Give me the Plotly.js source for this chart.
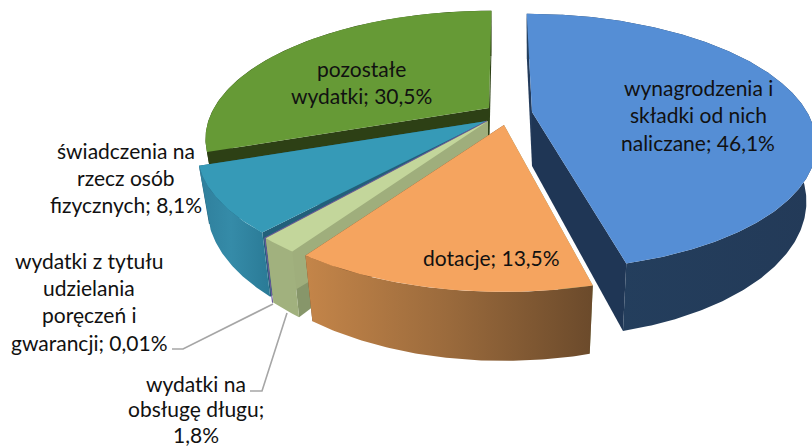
<!DOCTYPE html>
<html><head><meta charset="utf-8">
<script src="https://cdn.plot.ly/plotly-3.0.1.min.js"></script>
<style>html,body{margin:0;padding:0;background:#fff}#c{width:812px;height:448px}</style>
</head><body><div id="c"></div>
<script>
// Data
const categories = ['wynagrodzenia i składki od nich naliczane','dotacje','wydatki na obsługę długu','wydatki z tytułu udzielania poręczeń i gwarancji','świadczenia na rzecz osób fizycznych','pozostałe wydatki'];
const shares = [46.1,13.5,1.8,0.01,8.1,30.5];
const valueLabels = ['46,1%','13,5%','1,8%','0,01%','8,1%','30,5%'];

// Label line breaks
const labelLines = [
  ['wynagrodzenia i','składki od nich','naliczane; 46,1%'],
  ['dotacje; 13,5%'],
  ['wydatki na','obsługę długu;','1,8%'],
  ['wydatki z tytułu','udzielania','poręczeń i','gwarancji; 0,01%'],
  ['świadczenia na','rzecz osób','fizycznych; 8,1%'],
  ['pozostałe','wydatki; 30,5%']
];
const labelAnchor = [[698,87,27.5],[491,257,0],[196,383,25.5],[89,260,27.4],[126,150,27],[361,68,27]];

// Per-slice projection of the exploded 3D pie (centre pixel, radii, perspective, shear)
const proj = [
  {cx:532,cy:112,rx:275,ry:121,k:.2316,s:6.5},
  {cx:504,cy:125,rx:283,ry:128,k:.233,s:0},
  {cx:488,cy:121,rx:279,ry:128,k:.233,s:0},
  {cx:487,cy:121,rx:279,ry:128,k:.233,s:0},
  {cx:487,cy:121,rx:282,ry:122,k:.233,s:0},
  {cx:489,cy:108,rx:275,ry:120,k:.233,s:-3}
];
const depth = 54, lowX = .965, lowY = 1.09;

const styles = [
  {top:'#558ed5',side:[[0,'#24405f'],[1,'#233a58']],start:'#233b5b',end:'#1f3655'},
  {top:'#f5a45f',side:[[0,'#c48549'],[.5,'#9a6a3c'],[1,'#6b4a2b']],start:'#87966a',end:'#6b4a2b'},
  {top:'#c3d69b',side:[[0,'#a1b17e'],[1,'#a1b17e']],start:'#87966a',end:'#9fae7c'},
  {top:'#6b5a9a',side:[[0,'#6b5a9a'],[1,'#6b5a9a']],start:'#6b5a9a',end:'#6b5a9a'},
  {top:'#369ab7',side:[[0,'#2f7f9c'],[.45,'#358ba8'],[1,'#2a7a96']],start:'#22607a',end:'#22607a'},
  {top:'#669a36',side:[[0,'#2d4015'],[1,'#2d4015']],start:'#2d4015',end:'#2d4015'}
];

function pt(i,theta,lower){
  const p=proj[i], u=Math.sin(theta), v=-Math.cos(theta), w=1-p.k*v;
  let X=(p.rx*u+p.s*v)/w, Y=p.ry*v/w;
  if(lower) return [p.cx+X*lowX, p.cy+depth+Y*lowY];
  return [p.cx+X, p.cy+Y];
}
function centre(i,lower){const p=proj[i];return lower?[p.cx,p.cy+depth]:[p.cx,p.cy];}
function arc(i,a,b,lower){
  const out=[],n=Math.max(2,Math.ceil(Math.abs(b-a)/0.01));
  for(let j=0;j<=n;j++) out.push(pt(i,a+(b-a)*j/n,lower));
  return out;
}
function poly(name,pts,color,grad){
  const t={type:'scatter',mode:'lines',name:name,x:pts.map(q=>q[0]),y:pts.map(q=>q[1]),
    fill:'toself',line:{width:0,color:'rgba(0,0,0,0)'},hoverinfo:'name',showlegend:false};
  if(grad){const xs=t.x;t.fillgradient={type:'horizontal',colorscale:grad,start:Math.min(...xs),stop:Math.max(...xs)};}
  else t.fillcolor=color;
  return t;
}
const total=shares.reduce((a,b)=>a+b,0);
const starts=[];let acc=0;
shares.forEach(s=>{starts.push(acc/total*2*Math.PI);acc+=s;});
const ends=shares.map((s,i)=>starts[i]+s/total*2*Math.PI);

const traces=[];
[5,4,3,2,1,0].forEach(i=>{
  const a=starts[i],b=ends[i],st=styles[i],nm=categories[i];
  if(shares[i]<0.1){
    // a hair-thin slice: only its edge can be seen
    const e=[centre(i,false),pt(i,a,false),pt(i,a,true)];
    traces.push({type:'scatter',mode:'lines',name:nm,x:e.map(q=>q[0]),y:e.map(q=>q[1]),line:{color:st.top,width:1.2},hoverinfo:'name',showlegend:false});
    return;
  }
  traces.push(poly(nm,[centre(i,false),pt(i,a,false),pt(i,a,true),centre(i,true),centre(i,false)],st.start));
  traces.push(poly(nm,[centre(i,false),pt(i,b,false),pt(i,b,true),centre(i,true),centre(i,false)],st.end));
  const wall=arc(i,a,b,false).concat(arc(i,b,a,true));
  wall.push(wall[0]);
  traces.push(poly(nm,wall,null,st.side));
  const top=[centre(i,false)].concat(arc(i,a,b,false));top.push(top[0]);
  traces.push(poly(nm,top,st.top));
});
// leader lines
const leaderColor='#a6a6a6';
traces.push({type:'scatter',mode:'lines',x:[273,183,172],y:[304,349,349],line:{color:leaderColor,width:1.6},hoverinfo:'skip',showlegend:false});
traces.push({type:'scatter',mode:'lines',x:[287,262,250],y:[313,391,391],line:{color:leaderColor,width:1.6},hoverinfo:'skip',showlegend:false});

const annotations=[];
labelLines.forEach((ls,i)=>{
  const [x,y,dy]=labelAnchor[i];
  ls.forEach((t,j)=>annotations.push({x:x,y:y+j*dy,xref:'x',yref:'y',text:t,showarrow:false,xanchor:'center',yanchor:'middle',
    font:{family:'Lato, Carlito, Calibri, sans-serif',size:21,color:'#111'}}));
});
Plotly.newPlot('c',traces,{
  width:812,height:448,margin:{l:0,r:0,t:0,b:0},paper_bgcolor:'#fff',plot_bgcolor:'#fff',showlegend:false,
  xaxis:{range:[0,812],visible:false,fixedrange:true},
  yaxis:{range:[448,0],visible:false,fixedrange:true},
  annotations:annotations
},{staticPlot:true,displayModeBar:false});
</script></body></html>
